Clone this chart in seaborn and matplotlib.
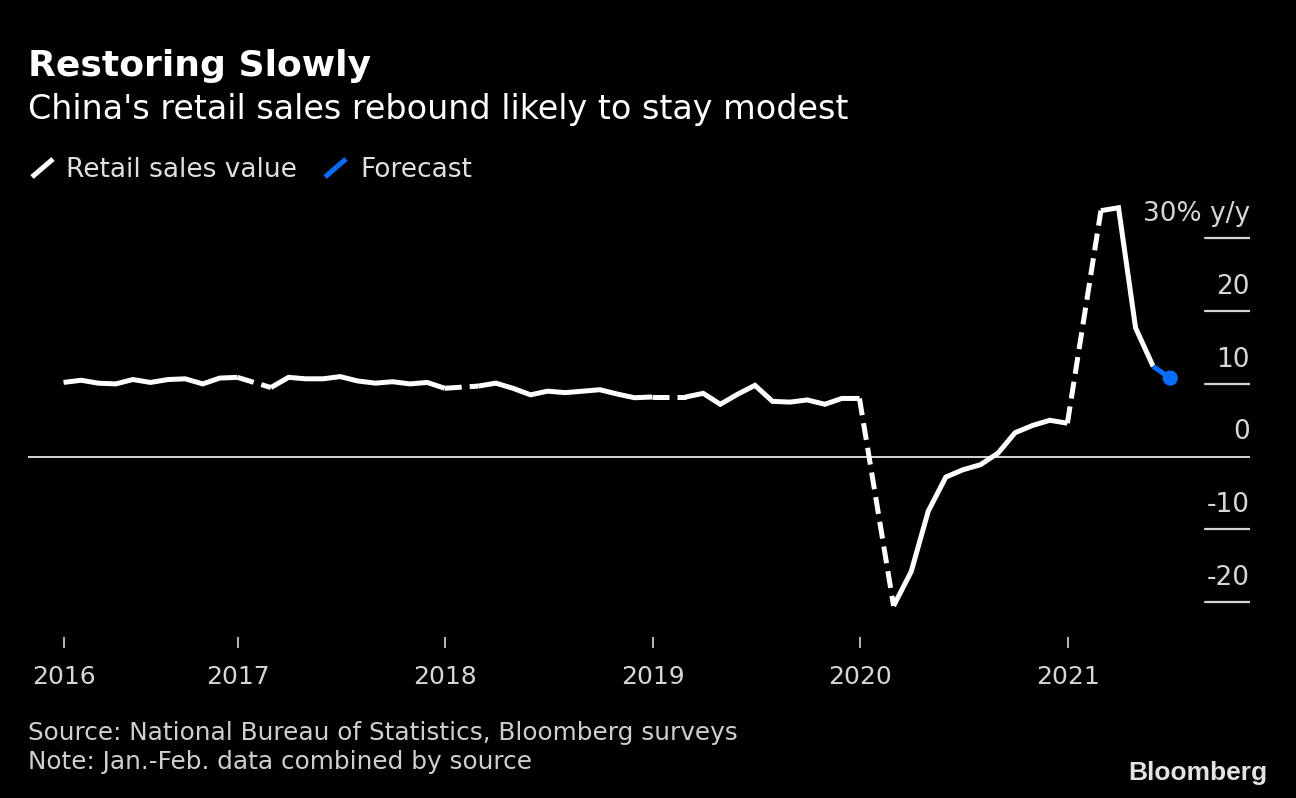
import pandas as pd
import matplotlib.pyplot as plt
from matplotlib.lines import Line2D
import seaborn as sns

# ---- data (y/y %, Jan-Feb combined and plotted at Feb) ----
years = [2016, 2017, 2018, 2019, 2020, 2021]
sales_2016 = [10.2, 10.5, 10.1, 10.0, 10.6, 10.2, 10.6, 10.7, 10.0, 10.8, 10.9]
sales_2017 = [9.5, 10.9, 10.7, 10.7, 11.0, 10.4, 10.1, 10.3, 10.0, 10.2, 9.4]
sales_2018 = [9.7, 10.1, 9.4, 8.5, 9.0, 8.8, 9.0, 9.2, 8.6, 8.1, 8.2]
sales_2019 = [8.2, 8.7, 7.2, 8.6, 9.8, 7.6, 7.5, 7.8, 7.2, 8.0, 8.0]
sales_2020 = [-20.5, -15.8, -7.5, -2.8, -1.8, -1.1, 0.5, 3.3, 4.3, 5.0, 4.6]
sales_2021 = [33.8, 34.2, 17.7, 12.4]
forecast_dates = ["2021-05-31", "2021-06-30"]
forecast_vals = [12.4, 10.8]

tick_labels = ["2016", "2017", "2018", "2019", "2020", "2021"]
y_ticks = [30, 20, 10, -10, -20]
y_labels = ["30% y/y", "20", "10", "-10", "-20"]

WHITE = "white"
BLUE = "#0a6cff"
GREY = "#d6d6d6"

sns.set_theme(style="dark", rc={"axes.facecolor": "black", "figure.facecolor": "black"})
plt.rcParams["font.family"] = ["DejaVu Sans"]

W, H = 1296, 798
fig = plt.figure(figsize=(W / 100, H / 100), dpi=100)
ax = fig.add_axes([28 / W, 1 - 637 / H, 1222 / W, 442 / H])
ax.set_facecolor("black")

# one frame per year, Feb..Dec month ends
yearly = [sales_2016, sales_2017, sales_2018, sales_2019, sales_2020, sales_2021]
frames = []
for yr, vals in zip(years, yearly):
    d = pd.DataFrame({
        "date": pd.date_range(f"{yr}-02-01", periods=len(vals), freq=pd.offsets.MonthEnd()),
        "value": vals,
    })
    frames.append(d)

ax.axhline(0, color=GREY, lw=1.4, zorder=1)

line_kw = dict(lw=3.6, solid_capstyle="butt", solid_joinstyle="miter", legend=False, zorder=3)
for d in frames:
    sns.lineplot(data=d, x="date", y="value", color=WHITE, ax=ax, **line_kw)

# dashed connectors across the missing January
for prev, nxt in zip(frames[:-1], frames[1:]):
    conn = pd.concat([prev.tail(1), nxt.head(1)])
    sns.lineplot(data=conn, x="date", y="value", color=WHITE, lw=3.6,
                 linestyle=(0, (3.4, 1.6)), dash_capstyle="butt", ax=ax, legend=False, zorder=3)

fc = pd.DataFrame({"date": pd.to_datetime(forecast_dates), "value": forecast_vals})
sns.lineplot(data=fc, x="date", y="value", color=BLUE, ax=ax, **line_kw)
sns.scatterplot(data=fc.tail(1), x="date", y="value", color=BLUE, s=120,
                edgecolor="none", ax=ax, legend=False, zorder=4)

ax.set_xlim(pd.Timestamp("2015-12-28 10:00"), pd.Timestamp("2021-11-17 10:00"))
ax.set_ylim(-24.77, 35.95)

tick_dates = [frames[0]["date"].iloc[0]] + [pd.Timestamp(f"{y}-01-01") for y in years[1:]]
ax.set_xticks(tick_dates)
ax.set_xticklabels(tick_labels)
ax.tick_params(axis="x", bottom=True, direction="out", length=8, width=1.2,
               color=GREY, labelcolor=GREY, labelsize=18, pad=12)
ax.set_yticks([])
ax.set_xlabel("")
ax.set_ylabel("")
ax.grid(False)
for s in ax.spines.values():
    s.set_visible(False)

for v, lab in zip(y_ticks, y_labels):
    ax.axhline(v, xmin=0.963, xmax=1.0, color=GREY, lw=1.6)
    ax.annotate(lab, xy=(1.0, v), xycoords=("axes fraction", "data"),
                xytext=(0, 12.5), textcoords="offset points",
                ha="right", va="baseline", fontsize=19, color=GREY)
ax.annotate("0", xy=(1.0, 0), xycoords=("axes fraction", "data"),
            xytext=(0, 12.5), textcoords="offset points",
            ha="right", va="baseline", fontsize=19, color=GREY)

# titles
fig.text(28 / W, 1 - 76 / H, "Restoring Slowly", fontsize=26, weight="bold",
         color="white", va="baseline")
fig.text(28 / W, 1 - 119 / H, "China's retail sales rebound likely to stay modest",
         fontsize=24, color="white", va="baseline")

# legend
fig.add_artist(Line2D([32 / W, 53 / W], [1 - 177 / H, 1 - 159 / H], color=WHITE,
                      lw=3.6, solid_capstyle="butt"))
fig.text(66 / W, 1 - 177 / H, "Retail sales value", fontsize=19, color="#e0e0e0", va="baseline")
fig.add_artist(Line2D([325 / W, 346 / W], [1 - 177 / H, 1 - 159 / H], color=BLUE,
                      lw=3.6, solid_capstyle="butt"))
fig.text(360 / W, 1 - 177 / H, "Forecast", fontsize=19, color="#e0e0e0", va="baseline")

# footer
fig.text(28 / W, 1 - 740 / H, "Source: National Bureau of Statistics, Bloomberg surveys",
         fontsize=17.8, color="#cfcfcf", va="baseline")
fig.text(28 / W, 1 - 769 / H, "Note: Jan.-Feb. data combined by source",
         fontsize=17.8, color="#cfcfcf", va="baseline")
fig.text(1128 / W, 1 - 780 / H, "Bloomberg", fontsize=19, weight="bold",
         family=["Liberation Sans", "DejaVu Sans"], color="#e3e3e3", va="baseline")

fig.savefig("out.png", dpi=100, facecolor="black")
